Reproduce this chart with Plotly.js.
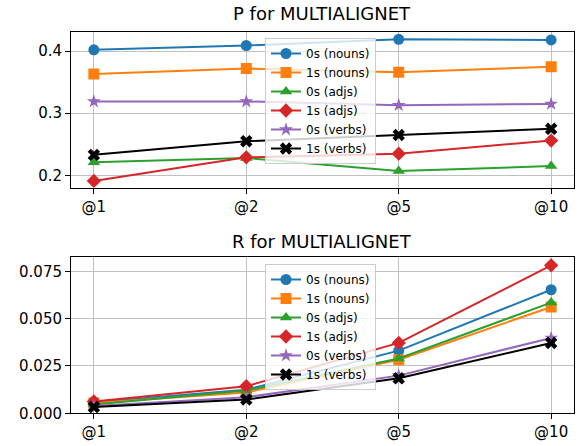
<!DOCTYPE html>
<html>
<head>
<meta charset="utf-8">
<script src="https://cdn.plot.ly/plotly-3.0.1.min.js"></script>
<style>html,body{margin:0;padding:0;background:#fff;}#chart{width:580px;height:446px;}</style>
</head>
<body>
<div id="chart"></div>
<script>
const categories = ['@1', '@2', '@5', '@10'];
const seriesNames = ['0s (nouns)', '1s (nouns)', '0s (adjs)', '1s (adjs)', '0s (verbs)', '1s (verbs)'];

const pNouns0 = [0.402, 0.409, 0.419, 0.418];
const pNouns1 = [0.363, 0.372, 0.366, 0.375];
const pAdjs0  = [0.221, 0.228, 0.207, 0.215];
const pAdjs1  = [0.191, 0.229, 0.235, 0.256];
const pVerbs0 = [0.319, 0.319, 0.313, 0.315];
const pVerbs1 = [0.233, 0.255, 0.265, 0.275];

const rNouns0 = [0.0058, 0.0125, 0.0331, 0.0653];
const rNouns1 = [0.0055, 0.0110, 0.0283, 0.0562];
const rAdjs0  = [0.0047, 0.0120, 0.0290, 0.0585];
const rAdjs1  = [0.0063, 0.0143, 0.0372, 0.0782];
const rVerbs0 = [0.0038, 0.0085, 0.0199, 0.0398];
const rVerbs1 = [0.0033, 0.0073, 0.0185, 0.0372];

const colors = ['#1f77b4', '#ff7f0e', '#2ca02c', '#d62728', '#9467bd', '#000000'];
const symbols = ['circle', 'square', 'triangle-up', 'diamond', 'star', 'x'];
const markerSizes = [11, 11, 11, 11, 10.5, 11];
const pSeries = [pNouns0, pNouns1, pAdjs0, pAdjs1, pVerbs0, pVerbs1];
const rSeries = [rNouns0, rNouns1, rAdjs0, rAdjs1, rVerbs0, rVerbs1];

const traces = [];
[[pSeries, 'x', 'y', 'legend'], [rSeries, 'x2', 'y2', 'legend2']].forEach(([series, xa, ya, lg]) => {
  series.forEach((ys, i) => {
    traces.push({
      x: categories, y: ys, name: seriesNames[i], type: 'scatter', mode: 'lines+markers',
      xaxis: xa, yaxis: ya, legend: lg,
      line: {color: colors[i], width: 2},
      marker: {color: colors[i], symbol: symbols[i], size: markerSizes[i], line: {width: 0}}
    });
  });
});

const font = {family: 'DejaVu Sans', size: 15, color: '#000'};
const axX = (anchor) => ({
  domain: [71/580, 574/580], anchor: anchor, type: 'category', range: [-0.15, 3.15],
  showgrid: true, gridcolor: '#c0c0c0', gridwidth: 1,
  showline: true, linecolor: '#000', linewidth: 1, mirror: true,
  ticks: 'outside', ticklen: 5, tickwidth: 1, tickcolor: '#000',
  tickfont: font, zeroline: false, fixedrange: true
});
const axY = (anchor, domain, range, dtick, fmt) => ({
  domain: domain, anchor: anchor, range: range, dtick: dtick, tick0: 0, tickformat: fmt,
  showgrid: true, gridcolor: '#c0c0c0', gridwidth: 1,
  showline: true, linecolor: '#000', linewidth: 1, mirror: true,
  ticks: 'outside', ticklen: 5, tickwidth: 1, tickcolor: '#000',
  tickfont: font, zeroline: false, fixedrange: true
});

const legendStyle = (y) => ({
  x: 265/580, y: y, xanchor: 'left', yanchor: 'top',
  bgcolor: 'rgba(255,255,255,0.8)', bordercolor: '#cccccc', borderwidth: 1,
  font: {family: 'DejaVu Sans', size: 12, color: '#000'},
  tracegroupgap: 0, itemwidth: 30
});

const titleFont = {family: 'DejaVu Sans', size: 18, color: '#000'};
const layout = {
  width: 580, height: 446,
  margin: {l: 0, r: 0, t: 0, b: 0},
  paper_bgcolor: '#fff', plot_bgcolor: '#fff',
  font: font,
  xaxis: axX('y'),
  yaxis: axY('x', [1 - 187.5/446, 1 - 31.7/446], [0.1805, 0.4312], 0.1, '.1f'),
  xaxis2: axX('y2'),
  yaxis2: axY('x2', [1 - 413.3/446, 1 - 257/446], [0, 0.0826], 0.025, '.3f'),
  legend: legendStyle(1 - 38/446),
  legend2: legendStyle(1 - 264/446),
  annotations: [
    {text: 'P for MULTIALIGNET', x: 322/580, y: 1 - 14/446, xref: 'paper', yref: 'paper',
     xanchor: 'center', yanchor: 'middle', showarrow: false, font: titleFont},
    {text: 'R for MULTIALIGNET', x: 322/580, y: 1 - 241/446, xref: 'paper', yref: 'paper',
     xanchor: 'center', yanchor: 'middle', showarrow: false, font: titleFont}
  ],
  showlegend: true
};

Plotly.newPlot('chart', traces, layout, {displayModeBar: false, staticPlot: true});
</script>
</body>
</html>
